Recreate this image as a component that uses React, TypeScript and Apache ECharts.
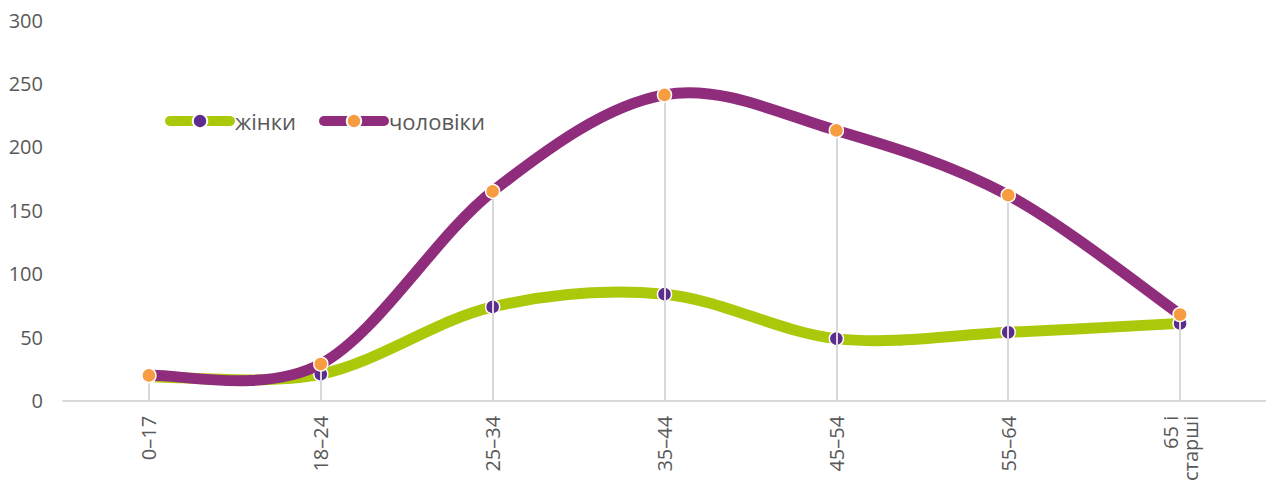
import React, { useEffect, useRef } from 'react';
import * as echarts from 'echarts';

const categories = ['0–17', '18–24', '25–34', '35–44', '45–54', '55–64', '65 і\nстарші'];
const women = [19, 21, 74, 84, 49, 54, 61];
const men = [20, 29, 165, 241, 213, 162, 68];
const yMin = 0;
const yMax = 300;
const yInterval = 50;
const seriesNames = ['жінки', 'чоловіки'];

const FONT = '"Open Sans", sans-serif';
const TEXT = '#595959';
const GREEN = '#acc80a';
const PURPLE = '#8f2c7b';
const LINE_W = 11;

// Excel-like smoothed line (Catmull-Rom -> cubic Bezier), drawn through the axes' scales
function curveSeries(name: string, values: number[], color: string, z: number) {
  return {
    name,
    type: 'custom',
    coordinateSystem: 'cartesian2d',
    silent: true,
    z,
    data: values.map((v, i) => [i, v]),
    encode: { x: 0, y: 1 },
    renderItem: (params: any, api: any) => {
      const i = params.dataIndex;
      if (i >= values.length - 1) return null;
      const pt = (k: number) => {
        const kk = Math.max(0, Math.min(values.length - 1, k));
        return api.coord([kk, values[kk]]);
      };
      const p0 = pt(i - 1);
      const p1 = pt(i);
      const p2 = pt(i + 1);
      const p3 = pt(i + 2);
      return {
        type: 'bezierCurve',
        shape: {
          x1: p1[0],
          y1: p1[1],
          x2: p2[0],
          y2: p2[1],
          cpx1: p1[0] + (p2[0] - p0[0]) / 6,
          cpy1: p1[1] + (p2[1] - p0[1]) / 6,
          cpx2: p2[0] - (p3[0] - p1[0]) / 6,
          cpy2: p2[1] - (p3[1] - p1[1]) / 6,
        },
        style: { stroke: color, lineWidth: LINE_W, fill: null, lineCap: 'round' },
      };
    },
  };
}

export default function App() {
  const ref = useRef<HTMLDivElement>(null);
  useEffect(() => {
    if (!ref.current) return;
    const chart = echarts.init(ref.current, null, { renderer: 'svg' });
    const dropData = categories.map((c, i) => [
      { coord: [c, 0] },
      { coord: [c, Math.max(women[i], men[i])] },
    ]);
    chart.setOption({
      animation: false,
      textStyle: { fontFamily: FONT },
      grid: { left: 63, top: 20, width: 1204, height: 381, containLabel: false },
      legend: {
        data: seriesNames,
        left: 165,
        top: 110,
        padding: 0,
        itemWidth: 60,
        itemHeight: 18,
        itemGap: 23,
        lineStyle: { width: 10, cap: 'round', opacity: 1 },
        textStyle: { fontSize: 22, color: TEXT, fontFamily: FONT },
      },
      xAxis: {
        type: 'category',
        data: categories,
        boundaryGap: true,
        axisLine: { lineStyle: { color: '#d9d9d9', width: 2 } },
        axisTick: { show: false },
        axisLabel: { rotate: 90, margin: 15, fontSize: 20, color: TEXT, interval: 0, fontFamily: FONT },
        splitLine: { show: false },
      },
      yAxis: {
        type: 'value',
        min: yMin,
        max: yMax,
        interval: yInterval,
        axisLine: { show: false },
        axisTick: { show: false },
        splitLine: { show: false },
        axisLabel: { margin: 20, fontSize: 20, color: TEXT, fontFamily: FONT },
      },
      series: [
        {
          name: 'drop',
          type: 'line',
          data: [],
          z: 1,
          silent: true,
          showSymbol: false,
          lineStyle: { width: 0 },
          markLine: {
            silent: true,
            symbol: ['none', 'none'],
            label: { show: false },
            lineStyle: { color: '#d9d9d9', width: 2, type: 'solid' },
            data: dropData,
          },
        },
        curveSeries('curve-w', women, GREEN, 2),
        {
          name: seriesNames[0],
          type: 'line',
          data: women,
          z: 3,
          symbol: 'circle',
          symbolSize: 14,
          lineStyle: { width: 10, color: GREEN, opacity: 0 },
          itemStyle: { color: '#5e2b8f', borderColor: '#ffffff', borderWidth: 1.5 },
          emphasis: { disabled: true },
        },
        curveSeries('curve-m', men, PURPLE, 4),
        {
          name: seriesNames[1],
          type: 'line',
          data: men,
          z: 5,
          symbol: 'circle',
          symbolSize: 14,
          lineStyle: { width: 10, color: PURPLE, opacity: 0 },
          itemStyle: { color: '#f79c40', borderColor: '#ffffff', borderWidth: 1.5 },
          emphasis: { disabled: true },
        },
      ],
    });
    return () => chart.dispose();
  }, []);
  return (
    <div
      ref={ref}
      style={{ position: 'fixed', left: 0, top: 0, width: 1266, height: 484, background: '#ffffff' }}
    />
  );
}
